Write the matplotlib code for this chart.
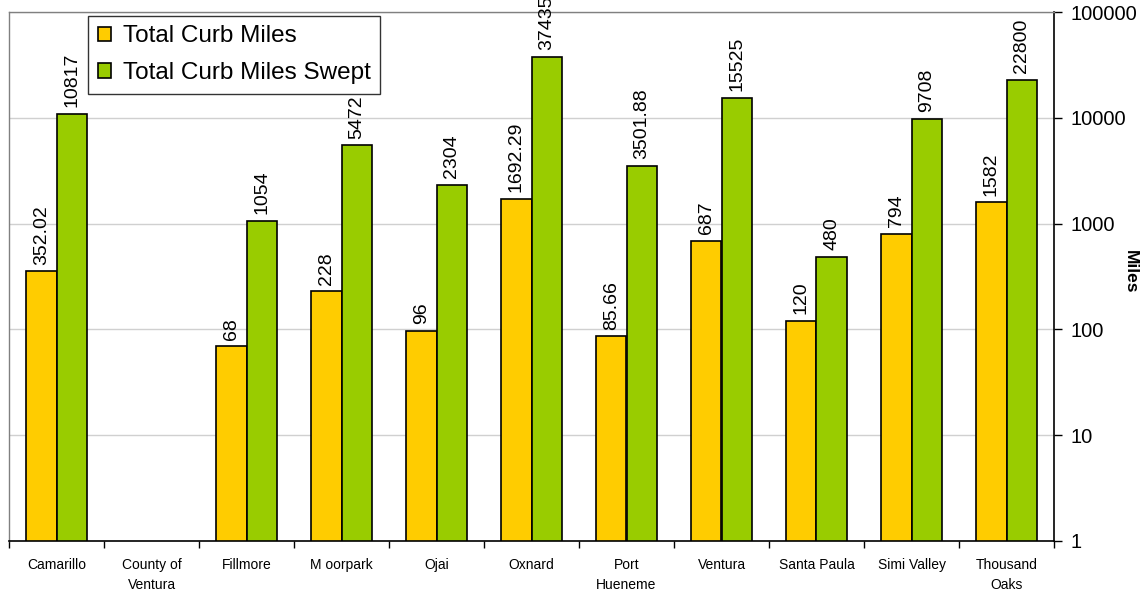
import numpy as np
import matplotlib
matplotlib.use("Agg")
import matplotlib.pyplot as plt
from matplotlib.patches import Patch
from matplotlib.ticker import FixedLocator, NullLocator

plt.rcParams['font.family'] = ['Liberation Sans', 'DejaVu Sans']

cities = ["Camarillo", "County of\nVentura", "Fillmore", "M oorpark", "Ojai", "Oxnard",
          "Port\nHueneme", "Ventura", "Santa Paula", "Simi Valley", "Thousand\nOaks"]
curb_miles = [352.02, None, 68, 228, 96, 1692.29, 85.66, 687, 120, 794, 1582]
curb_miles_swept = [10817, None, 1054, 5472, 2304, 37435, 3501.88, 15525, 480, 9708, 22800]
curb_labels = ["352.02", "", "68", "228", "96", "1692.29", "85.66", "687", "120", "794", "1582"]
swept_labels = ["10817", "", "1054", "5472", "2304", "37435", "3501.88", "15525", "480", "9708", "22800"]
y_ticks = [1, 10, 100, 1000, 10000, 100000]

orange = "#FFCC00"
green = "#99CC00"

W, H = 1142, 590
fig = plt.figure(figsize=(W / 100, H / 100), dpi=100)
ax = fig.add_axes([9 / W, 1 - 541 / H, (1054 - 9) / W, (541 - 12) / H])

x = np.arange(len(cities))
bw = 0.316

for i in x:
    for val, lab, col, off in ((curb_miles[i], curb_labels[i], orange, -bw / 2),
                               (curb_miles_swept[i], swept_labels[i], green, bw / 2)):
        if val is None:
            continue
        ax.bar(i + off, val, width=bw, bottom=1, color=col, edgecolor="black", linewidth=1.2,
               zorder=3)
        ax.annotate(lab, (i + off, val), xytext=(0, 5), textcoords="offset points",
                    rotation=90, ha="center", va="bottom", fontsize=14, annotation_clip=False)

ax.set_yscale("log")
ax.set_ylim(1, 100000)
ax.set_xlim(-0.5, len(cities) - 0.5)

ax.yaxis.tick_right()
ax.yaxis.set_major_locator(FixedLocator(y_ticks))
ax.yaxis.set_minor_locator(NullLocator())
ax.set_yticklabels([str(t) for t in y_ticks], fontsize=14.5)
ax.tick_params(axis="y", direction="out", length=6, width=1, pad=6, color="black")
fig.text(1130 / W, 1 - 272 / H, "Miles", fontsize=12.5, fontweight="bold", rotation=-90,
         ha="center", va="center")

ax.set_xticks(x)
ax.set_xticklabels(cities, fontsize=10, linespacing=1.6, va="top")
ax.tick_params(axis="x", length=0, pad=12)
ax.set_xticks(np.arange(-0.5, len(cities), 1), minor=True)
ax.tick_params(axis="x", which="minor", direction="out", length=5, width=1, color="black")

ax.grid(axis="y", which="major", color="#d0d0d0", linewidth=1, zorder=0)
ax.set_axisbelow(True)
for s in ("top", "left"):
    ax.spines[s].set_color("#808080")
    ax.spines[s].set_linewidth(1)
for s in ("bottom", "right"):
    ax.spines[s].set_color("black")
    ax.spines[s].set_linewidth(1.2)

handles = [Patch(facecolor=orange, edgecolor="black", linewidth=1.2, label="Total Curb Miles"),
           Patch(facecolor=green, edgecolor="black", linewidth=1.2, label="Total Curb Miles Swept")]
leg = ax.legend(handles=handles, loc="upper left", bbox_to_anchor=(79 / (1054 - 9), 0.993),
                fontsize=17.5, frameon=True, fancybox=False, edgecolor="black",
                handlelength=0.53, handleheight=0.53, handletextpad=0.5, borderpad=0.4,
                labelspacing=0.6, borderaxespad=0)
leg.get_frame().set_linewidth(1)

fig.savefig("out.png", dpi=100)
